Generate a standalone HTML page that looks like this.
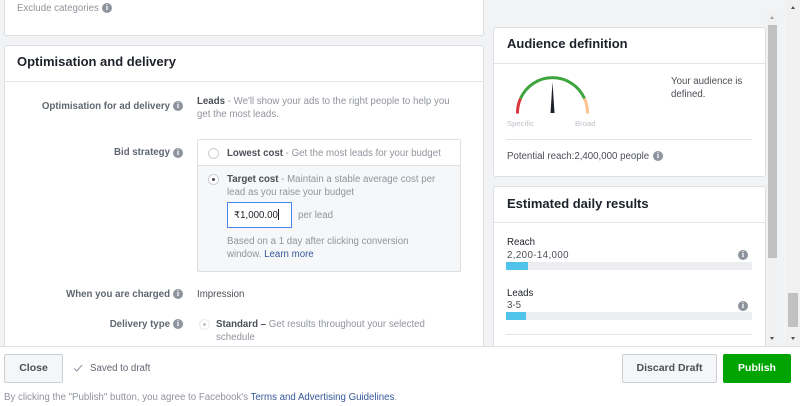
<!DOCTYPE html>
<html><head><meta charset="utf-8">
<style>
*{margin:0;padding:0;box-sizing:border-box}
html,body{width:800px;height:400px;overflow:hidden;background:#f2f3f5;font-family:"Liberation Sans",Arial,sans-serif;font-size:9.7px;color:#4b4f56}
.a{position:absolute}
.t{position:absolute;line-height:13px;white-space:nowrap}
.card{position:absolute;background:#fff;border:1px solid #dddfe2;border-radius:3px}
.h{position:absolute;font-size:13px;font-weight:bold;color:#1d2129;line-height:16px;white-space:nowrap}
.sep{position:absolute;height:1px;background:#e5e5e5}
.g{color:#90949c}
.b{font-weight:bold;color:#4b4f56}
.lbl{position:absolute;left:0;width:170px;text-align:right;font-weight:bold;color:#606770;line-height:13px;white-space:nowrap}
.ic{position:absolute;width:10px;height:10px;border-radius:50%;background:#8d949e;color:#fff;font-size:8px;font-weight:bold;line-height:10px;text-align:center;font-family:"Liberation Serif",serif}
.rad{position:absolute;width:11px;height:11px;border-radius:50%;border:1px solid #ccd0d5;background:#fff}
.dot{position:absolute;left:3px;top:3px;width:3px;height:3px;border-radius:50%;background:#4b4f56}
.btn{position:absolute;height:29px;border-radius:2px;border:1px solid #ccd0d5;background:#f5f6f7;font-weight:bold;font-size:10.5px;color:#4b4f56;text-align:center;line-height:27px}
.bar{position:absolute;left:506px;width:246px;height:8px;background:#ebedf0}
.bar i{position:absolute;left:0;top:0;height:8px;background:#4fc3ea}
</style></head><body>

<!-- top card -->
<div class="card" style="left:4px;top:-6px;width:480px;height:42px"></div>
<div class="t g" style="left:17px;top:1.5px">Exclude categories</div>
<div class="ic" style="left:102px;top:3px">i</div>

<!-- main card -->
<div class="card" style="left:4px;top:45px;width:480px;height:320px"></div>
<div class="h" style="left:17px;top:54px">Optimisation and delivery</div>
<div class="sep" style="left:5px;top:81px;width:478px"></div>

<div class="lbl" style="top:99.5px">Optimisation for ad delivery</div>
<div class="ic" style="left:173px;top:101px">i</div>
<div class="t" style="left:197px;top:94.5px"><span class="b">Leads</span><span class="g"> - We'll show your ads to the right people to help you</span></div>
<div class="t g" style="left:197px;top:107.5px">get the most leads.</div>

<div class="lbl" style="top:146px">Bid strategy</div>
<div class="ic" style="left:173px;top:148px">i</div>

<div class="a" style="left:197px;top:139px;width:264px;height:133px;border:1px solid #dddfe2;border-radius:2px;background:#f6f7f9"></div>
<div class="a" style="left:198px;top:140px;width:262px;height:26px;background:#fff;border-bottom:1px solid #dddfe2"></div>
<div class="rad" style="left:208px;top:148px"></div>
<div class="t" style="left:227px;top:146.5px"><span class="b">Lowest cost</span><span class="g"> - Get the most leads for your budget</span></div>
<div class="rad" style="left:208px;top:174px"><div class="dot"></div></div>
<div class="t" style="left:227px;top:173px"><span class="b">Target cost</span><span class="g"> - Maintain a stable average cost per</span></div>
<div class="t g" style="left:227px;top:186px">lead as you raise your budget</div>
<div class="a" style="left:227px;top:202px;width:65px;height:26px;border:1.5px solid #4a86f0;background:#fff"></div>
<div class="t" style="left:234px;top:208.5px;color:#1d2129">₹1,000.00<span style="display:inline-block;width:1px;height:11px;background:#1d2129;vertical-align:-2px"></span></div>
<div class="t g" style="left:298px;top:208.5px">per lead</div>
<div class="t g" style="left:227px;top:234.5px">Based on a 1 day after clicking conversion</div>
<div class="t g" style="left:227px;top:248px">window. <span style="color:#365899">Learn more</span></div>

<div class="lbl" style="top:288px">When you are charged</div>
<div class="ic" style="left:173px;top:289px">i</div>
<div class="t" style="left:197px;top:288px;color:#4b4f56">Impression</div>

<div class="lbl" style="top:318px">Delivery type</div>
<div class="ic" style="left:173px;top:319px">i</div>
<div class="rad" style="left:198.5px;top:318.5px;border-color:#e9ebee"><div class="dot" style="background:#bec3c9"></div></div>
<div class="t" style="left:216px;top:317.5px"><span class="b">Standard –</span><span class="g"> Get results throughout your selected</span></div>
<div class="t g" style="left:216px;top:330.5px">schedule</div>

<!-- audience card -->
<div class="card" style="left:493px;top:27px;width:273px;height:150px"></div>
<div class="h" style="left:507px;top:36px">Audience definition</div>
<div class="sep" style="left:494px;top:63px;width:271px"></div>
<svg class="a" style="left:500px;top:70px" width="100" height="60" viewBox="0 0 100 60">
  <path d="M17.5 43.5 A35 35 0 0 1 20.5 28.5" fill="none" stroke="#d9363b" stroke-width="3"/>
  <path d="M20.5 28.5 A35 35 0 0 1 84.5 28.5" fill="none" stroke="#3ea53c" stroke-width="3"/>
  <path d="M84.5 28.5 A35 35 0 0 1 87.5 43.5" fill="none" stroke="#fcc38e" stroke-width="3"/>
  <path d="M50.5 43 L52.5 12 L54.5 43 Z" fill="#1d2129"/>
</svg>
<div class="t" style="left:507px;top:117px;font-size:7.7px;color:#bec3c9">Specific</div>
<div class="t" style="left:575px;top:117px;font-size:7.7px;color:#bec3c9">Broad</div>
<div class="t" style="left:671px;top:75px;color:#4b4f56">Your audience is</div>
<div class="t" style="left:671px;top:88px;color:#4b4f56">defined.</div>
<div class="sep" style="left:506px;top:139px;width:246px"></div>
<div class="t" style="left:507px;top:149.5px;color:#4b4f56">Potential reach:2,400,000 people</div>
<div class="ic" style="left:653px;top:151px">i</div>

<!-- estimated card -->
<div class="card" style="left:493px;top:186px;width:273px;height:180px"></div>
<div class="h" style="left:507px;top:196px">Estimated daily results</div>
<div class="sep" style="left:494px;top:222px;width:271px"></div>
<div class="t" style="left:507px;top:236px;color:#1d2129">Reach</div>
<div class="t" style="left:507px;top:248.5px;color:#4b4f56;letter-spacing:0.4px">2,200-14,000</div>
<div class="ic" style="left:738px;top:250px">i</div>
<div class="bar" style="top:262px"><i style="width:22px"></i></div>
<div class="t" style="left:507px;top:286.5px;color:#1d2129">Leads</div>
<div class="t" style="left:507px;top:299px;color:#4b4f56">3-5</div>
<div class="ic" style="left:738px;top:301px">i</div>
<div class="bar" style="top:312px"><i style="width:20px"></i></div>
<div class="sep" style="left:506px;top:334px;width:246px"></div>

<!-- inner scrollbar -->
<div class="a" style="left:767px;top:11px;width:10px;height:336px;background:#f1f1f1"></div>
<div class="a" style="left:768px;top:25px;width:9px;height:233px;background:#c1c1c1"></div>
<div class="a" style="left:770px;top:16px;width:0;height:0;border-left:2.5px solid transparent;border-right:2.5px solid transparent;border-bottom:3px solid #a3a3a3"></div>
<div class="a" style="left:770px;top:337px;width:0;height:0;border-left:2.5px solid transparent;border-right:2.5px solid transparent;border-top:3px solid #505050"></div>

<!-- outer scrollbar -->
<div class="a" style="left:786px;top:0;width:14px;height:347px;background:#f1f1f1"></div>
<div class="a" style="left:788px;top:293px;width:10px;height:34px;background:#c1c1c1"></div>
<div class="a" style="left:790.5px;top:6px;width:0;height:0;border-left:2.5px solid transparent;border-right:2.5px solid transparent;border-bottom:3px solid #505050"></div>
<div class="a" style="left:790.5px;top:337px;width:0;height:0;border-left:2.5px solid transparent;border-right:2.5px solid transparent;border-top:3px solid #505050"></div>

<!-- footer -->
<div class="a" style="left:0;top:346px;width:800px;height:60px;background:#fff;border-top:1px solid #dddfe2"></div>
<div class="btn" style="left:4px;top:354px;width:59px">Close</div>
<svg class="a" style="left:73px;top:363px" width="10" height="10" viewBox="0 0 10 10"><polyline points="1,5.5 3.8,8 9,2" fill="none" stroke="#8d949e" stroke-width="1"/></svg>
<div class="t" style="left:90px;top:361.5px;color:#606770">Saved to draft</div>
<div class="btn" style="left:622px;top:354px;width:95px">Discard Draft</div>
<div class="btn" style="left:723px;top:354px;width:68px;background:#00a400;border-color:#00a400;color:#fff">Publish</div>
<div class="t g" style="left:4px;top:390.5px">By clicking the "Publish" button, you agree to Facebook's <span style="color:#365899">Terms and Advertising Guidelines</span>.</div>

</body></html>
